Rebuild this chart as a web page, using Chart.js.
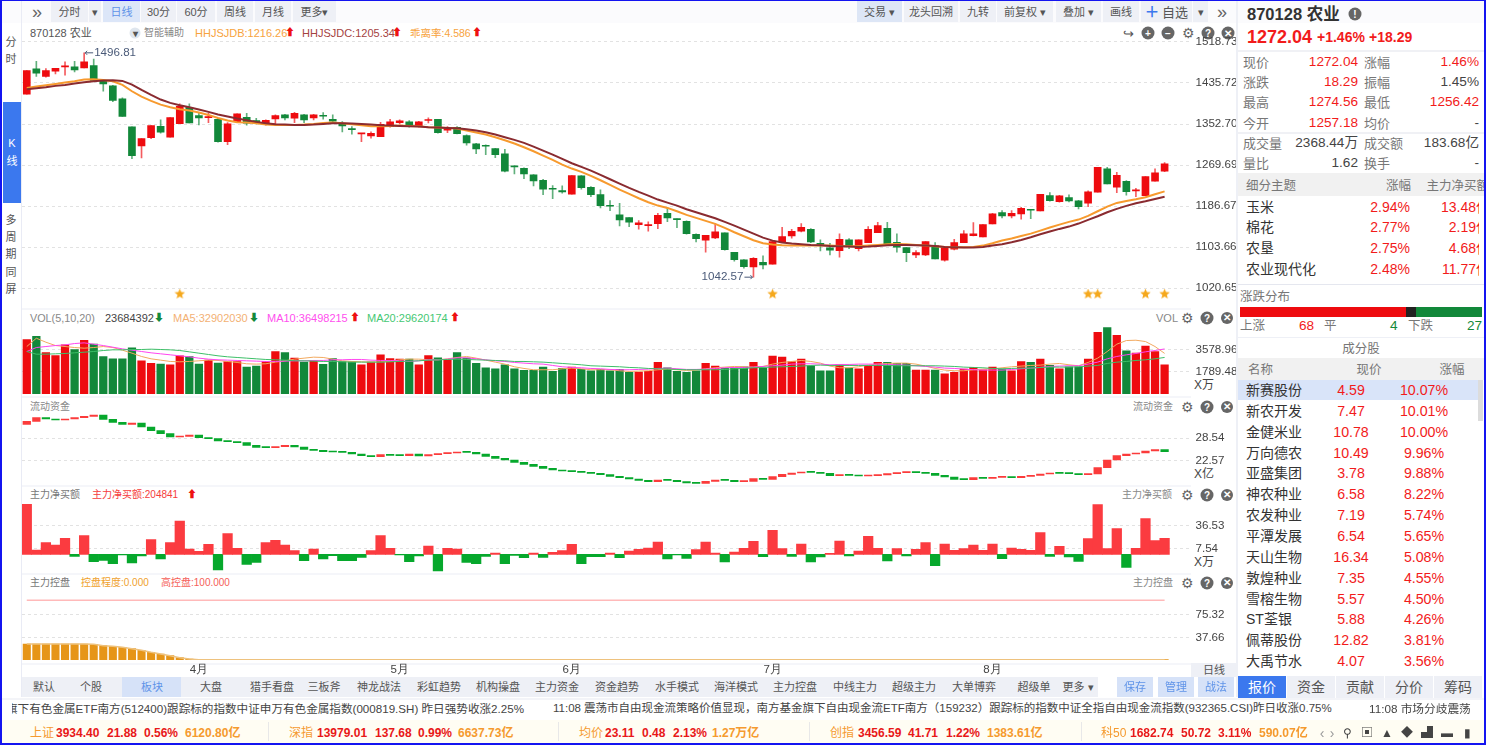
<!DOCTYPE html>
<html lang="zh"><head><meta charset="utf-8"><title>870128 农业</title>
<script src="https://cdn.jsdelivr.net/npm/chart.js@4"></script>
<style>
html,body{margin:0;padding:0;background:#fff;overflow:hidden}
body{width:1486px;height:745px;position:relative;font-family:"Liberation Sans","Noto Sans CJK SC",sans-serif;filter:blur(0.4px)}
canvas{position:absolute;display:block}
.t{position:absolute;white-space:pre;line-height:1;transform:translateY(-50%)}
.b{position:absolute}
</style></head><body>
<script>
// ---------- data ----------
const opens=[1413,1464.3,1448.8,1459.6,1468.3,1468.3,1466.3,1471,1440,1429.9,1403.5,1346.8,1308.4,1325.2,1348.2,1325.9,1353.6,1386.7,1369.8,1365.7,1362.4,1317.1,1357.6,1366.4,1359.7,1351.6,1363,1371.1,1364.4,1371.1,1365,1369.8,1362.4,1352.9,1342.8,1332.7,1328.6,1327.3,1347.5,1355.6,1356.9,1347.5,1359.7,1362.3,1340.1,1346.2,1329.3,1312.4,1309,1303,1292.2,1267.2,1263.1,1249.6,1238.8,1222,1217.9,1210.5,1247.6,1224.6,1209.8,1187.5,1168.6,1163.2,1149,1147,1151.1,1172,1160.5,1155.8,1129.5,1117.3,1122,1132.2,1093,1077.5,1063.3,1072.8,1068.7,1114.6,1126.1,1135.5,1139.6,1111.3,1101.8,1096.4,1118,1100.5,1112.6,1132.9,1141.6,1113.3,1102.5,1087.6,1087.6,1106.5,1076.8,1099.1,1112.6,1126.8,1124.1,1150.4,1173.4,1166.6,1170.7,1179.4,1176.7,1207.8,1195.6,1203.7,1197,1192.3,1214.5,1261.8,1224.7,1236.8,1217.2,1207.8,1236.8,1257.18];
const highs=[1460.9,1479.8,1465,1465.6,1478.5,1479.8,1496.81,1483.9,1442,1431.2,1405.6,1346.8,1323.2,1349.5,1361,1365.7,1393.4,1393.4,1374.5,1374.5,1364.4,1355.6,1373.1,1374.5,1364.4,1361,1371.1,1372.5,1376.5,1372.5,1372.5,1375.9,1371.1,1357.6,1347.5,1334,1336.7,1356.3,1362.4,1361,1359.7,1358.3,1365,1362.3,1347.5,1347.5,1330.6,1313.8,1310.4,1303.6,1301.6,1267.9,1263.8,1250.3,1240.8,1228,1227.4,1248.3,1248.3,1226,1219.3,1197.7,1192.2,1163.2,1157.2,1154.5,1172,1184.1,1160.5,1156.5,1130.2,1127.5,1151.8,1132.2,1093,1078.2,1082.2,1085.6,1116,1143.7,1139.6,1151.1,1140.9,1118,1111.3,1130.2,1120.7,1118,1145,1153.8,1153.8,1130.2,1102.5,1096.4,1114.6,1112.6,1104.5,1119.4,1136.9,1153.1,1149,1172,1177.4,1177.4,1184.2,1179.4,1210.5,1213.9,1208.5,1209.1,1198.3,1217.2,1265.2,1265.2,1255,1238.2,1222.6,1246.3,1261.8,1274.56];
const lows=[1413,1448.8,1447.4,1454.2,1451.5,1458.2,1466.3,1440.7,1419,1398.1,1367.8,1282.7,1284,1323.2,1334,1325.9,1353.6,1354.9,1350.9,1355.6,1315.8,1311,1357.6,1350.2,1352.9,1350.2,1352.9,1361,1355.6,1355.6,1361,1362.4,1354.2,1336.7,1332,1317.1,1323.9,1327.3,1346.2,1352.2,1346.2,1346.2,1354.9,1334,1335.3,1332.7,1309.7,1292.8,1290.8,1284.7,1255.7,1251.7,1242.2,1227.4,1209.8,1201.7,1212.5,1210.5,1220.6,1205.8,1182.8,1177.4,1146.4,1145,1139.6,1135.5,1141,1155.1,1143,1129.5,1113.9,1093,1120.7,1097,1074.8,1060.6,1042.57,1059.3,1068.7,1112.6,1121.4,1134.2,1112.6,1095.7,1087.6,1082.9,1100.5,1095.7,1112.6,1132.9,1107.9,1093,1074.1,1082.2,1086.3,1079.5,1074.8,1097.8,1112.6,1126.1,1124.1,1150.4,1162.6,1162.6,1159.9,1161.2,1176.7,1196.3,1194.3,1195,1180.8,1185.5,1214.5,1231.4,1213.9,1208.5,1205.8,1207.8,1236.8,1256.42];
const closes=[1460.9,1455.5,1460.9,1465.6,1469.7,1462.3,1478.5,1440.7,1433.9,1400.2,1367.8,1288.8,1323.2,1349.5,1336,1365.7,1388.7,1354.9,1365,1367.1,1317.1,1352.9,1373.1,1354.2,1354.2,1360.3,1369.8,1365,1374.5,1361,1371.1,1368.4,1358.3,1348.9,1341.4,1334,1334,1352.2,1356.9,1359,1348.2,1356.9,1361,1335.3,1344.1,1333.3,1314.4,1302.3,1307.7,1290.8,1257,1265.8,1251.7,1237.5,1220.6,1220.6,1215.2,1248.3,1224,1209.8,1187.5,1186.2,1158.5,1153.8,1152.4,1148.4,1168,1162.5,1159.2,1130.8,1120.7,1127.5,1134.2,1098.4,1078.2,1064,1080.9,1067.4,1114.6,1124.8,1135.5,1143.7,1113.9,1107.2,1097,1119.4,1105.9,1118,1139.6,1147,1109.9,1103.2,1092.4,1092.4,1114.6,1079.5,1104.5,1112.6,1130.2,1130.2,1149,1170.7,1166.6,1172,1182.1,1178.1,1210.5,1197.7,1207.1,1197,1185.5,1215.2,1265.2,1231.4,1249,1215.9,1218.6,1246.3,1253.7,1272.04];
const jdb=[1425.8,1428.5,1431.2,1433.9,1436.6,1439.3,1442.7,1443.4,1442,1439.3,1431.9,1419,1408.3,1399.5,1392,1386.7,1382.6,1379.9,1375.9,1371.1,1365,1359.7,1356.3,1355.6,1354.3,1351.6,1350.9,1350.9,1350.9,1351.6,1352.9,1354.9,1355.6,1354.3,1352.2,1350.2,1348.2,1348.2,1348.9,1349.5,1348.9,1348.2,1346.2,1345.5,1344.8,1343.5,1339.4,1335.4,1331.3,1325.9,1319.8,1313.1,1305.7,1297.5,1288.8,1280,1270.5,1262.5,1255.7,1247.6,1238.8,1229.4,1219.9,1211.2,1202.4,1194.3,1187.5,1182.8,1176,1168.6,1162.6,1156.5,1150.4,1142.3,1133.5,1125.4,1117.3,1111.3,1108.6,1107.2,1106.5,1106.5,1106.5,1106.5,1106.5,1105.9,1105.2,1105.2,1106.5,1107.9,1109.2,1109.9,1109.2,1107.9,1106.5,1105.2,1103.8,1103.2,1103.2,1103.8,1106.5,1111.3,1116.7,1120.7,1126.1,1130.8,1136.9,1143,1149,1154.5,1159.2,1166.6,1176,1185.5,1192.9,1197,1200.4,1204.4,1210.5,1216.26];
const jdc=[1423.1,1425.1,1427.2,1429.9,1431.9,1434.6,1437.3,1439.3,1440.7,1441.3,1440,1432.6,1421.8,1411.6,1402.2,1395.4,1390.7,1386.7,1381.9,1377.2,1371.8,1367.8,1363.7,1360.3,1357,1354.3,1352.2,1351.6,1350.9,1350.9,1351.6,1352.9,1354.3,1354.3,1353.6,1352.9,1351.6,1350.2,1349.5,1348.9,1348.2,1347.5,1346.2,1345.5,1344.8,1344.1,1342.1,1339.4,1336,1331.3,1325.9,1320.5,1314.4,1307,1298.9,1290.8,1282,1273.3,1265.8,1258.4,1249.6,1240.8,1232.1,1223.3,1215.2,1207.8,1199.7,1193.6,1187.5,1180.1,1174,1168,1161.9,1154.4,1147,1138.9,1130.8,1122.7,1116.6,1112.6,1110.6,1109.2,1107.9,1107.2,1105.9,1105.2,1104.5,1103.8,1104.5,1105.9,1107.2,1107.9,1107.9,1107.2,1106.5,1105.9,1103.8,1103.2,1102.5,1102.5,1103.8,1106.5,1109.2,1113.3,1118,1123.4,1129.5,1134.9,1140.3,1145,1151.1,1158.5,1165.9,1174,1180.8,1186.9,1192.3,1196.3,1201,1205.34];
const starIdx=[16,78,111,112,117,119];
const volumes=[4412,4681,3363,3120,3981,3605,4358,4035,3040,2851,2851,3739,2690,2475,2421,2367,3094,3040,2421,2744,2502,2636,2636,2179,2260,2636,3443,3363,2905,2582,2690,2394,2878,2636,2609,2367,2582,3174,2878,2825,2825,2367,3120,2932,2771,3363,2905,2475,2125,2044,2367,2044,1910,1910,2179,1829,2071,2179,1991,1883,1991,1883,1991,1749,1775,1829,2556,2125,1829,1749,1883,2475,2260,2071,2098,2206,2556,2098,3067,2986,2636,2825,2287,1883,1883,2367,2098,2044,2287,2556,2556,2475,2475,1937,1937,1937,1641,1749,2018,2152,1964,2179,2018,1883,2636,2556,2825,2313,2044,2206,2206,2825,5003,5380,4761,3497,3309,3874,3443,2368];
const ma5=[3847,4519,4196,3927,3847,3766,3712,3766,3847,3766,3551,3309,3040,2851,2744,2636,2609,2636,2690,2744,2717,2636,2556,2448,2421,2448,2582,2690,2825,2905,2986,2959,2825,2690,2636,2609,2582,2609,2636,2771,2825,2825,2771,2771,2851,2959,3040,2905,2744,2582,2421,2206,2071,1964,1964,1964,2044,2098,2044,1964,1964,1964,1883,1829,1856,1883,1964,2018,1964,1910,1937,2044,2125,2179,2233,2206,2179,2233,2421,2556,2636,2717,2636,2502,2260,2125,2125,2206,2340,2421,2475,2502,2502,2421,2260,2071,1937,1883,1883,1964,2018,2044,2125,2206,2260,2313,2340,2421,2475,2367,2287,2556,2905,3443,4035,4331,4358,4250,3847,3290];
const ma10=[3443,3766,3847,3927,3981,4089,4143,4035,3927,3793,3658,3551,3443,3336,3255,3174,3094,3013,2905,2825,2771,2744,2717,2690,2663,2636,2636,2663,2690,2690,2717,2717,2771,2771,2798,2798,2744,2717,2717,2690,2636,2690,2771,2771,2825,2932,2932,2851,2771,2690,2636,2556,2502,2448,2421,2313,2206,2152,2125,2071,2044,1991,1964,1964,1991,2018,2071,2098,2044,1991,1991,2018,2071,2125,2152,2152,2179,2233,2287,2340,2421,2448,2448,2421,2367,2394,2394,2421,2421,2421,2394,2367,2340,2287,2233,2179,2098,2071,2018,1964,1937,1937,1937,1991,2044,2098,2152,2233,2260,2287,2287,2421,2582,2851,3040,3174,3282,3416,3524,3650];
const ma20=[3443,3228,3228,3255,3282,3336,3389,3443,3524,3578,3578,3605,3605,3632,3605,3578,3524,3416,3309,3201,3094,3013,2959,2905,2851,2798,2771,2744,2690,2690,2663,2636,2636,2609,2582,2582,2582,2582,2609,2636,2663,2690,2744,2771,2798,2825,2798,2771,2744,2717,2690,2636,2636,2609,2582,2529,2475,2421,2367,2287,2260,2233,2206,2152,2125,2071,2044,2018,1991,1964,1964,1964,1964,1991,2044,2071,2125,2152,2179,2206,2233,2260,2313,2340,2313,2313,2313,2313,2313,2313,2313,2287,2287,2287,2287,2287,2260,2233,2179,2152,2125,2071,2044,2071,2098,2098,2152,2179,2179,2179,2206,2260,2313,2475,2582,2636,2717,2771,2851,2962];
const fundStart=32.25;
const fundClose=[33.05,34.04,33.68,33.41,33.68,34.04,34.40,34.76,33.59,32.78,32.25,32.61,31.53,30.54,29.74,28.84,29.02,29.38,28.66,28.39,27.77,27.59,27.32,26.60,26.06,25.98,26.24,26.60,26.15,25.53,25.26,24.90,24.81,24.72,24.27,23.82,23.56,24.09,23.91,23.82,24.27,23.73,24.09,24.36,24.54,24.81,24.72,24.27,23.65,23.11,22.66,22.03,21.49,20.96,20.42,19.97,19.70,19.52,19.34,19.08,18.72,18.27,17.91,17.55,17.19,16.84,17.28,17.19,16.84,16.48,16.39,16.93,17.28,17.19,16.84,16.93,17.64,17.46,18.18,18.81,19.17,19.43,19.34,19.08,18.45,18.72,18.54,18.36,18.45,18.63,18.99,19.25,19.52,19.25,19.08,18.54,18.09,17.46,17.37,17.91,17.73,18.00,18.18,17.91,18.27,18.54,18.90,19.17,19.08,18.99,18.72,18.90,20.60,22.66,23.82,24.27,24.54,25.08,25.44,24.90];
const netBuy=[63.95,5.54,14.92,11.94,20.46,-2.56,23.87,-9.38,-7.67,-11.94,-0.85,-11.08,-2.13,18.76,-5.97,14.92,42.63,6.82,3.84,12.79,-20.04,26.43,7.67,-12.79,-10.23,14.92,17.9,11.94,4.69,-8.1,6.82,-5.97,-1.71,-8.1,-8.1,-3.84,4.69,23.87,7.67,-0.85,-9.38,-2.13,10.66,-21.32,7.67,6.82,-10.23,-11.94,-2.56,1.71,-11.94,-1.28,-4.26,1.71,-3.84,2.56,4.69,12.79,-11.94,-2.98,-2.98,1.71,-4.26,4.26,6.39,8.1,15.77,-5.97,-0.85,-5.12,5.97,15.77,1.71,-9.8,2.98,7.67,16.63,-2.98,30.69,7.25,-2.56,13.22,-9.8,-3.41,1.28,17.05,-2.13,4.26,23.02,7.67,-8.53,7.25,-2.13,6.39,14.92,-14.49,13.22,5.12,7.25,11.94,5.12,13.22,-5.54,8.1,6.39,5.12,27.71,-2.56,10.23,-3.41,-8.95,20.04,63.52,7.25,32.83,-16.63,7.67,45.61,17.48,20.48];
const control=[26.41,26.41,26.41,26.41,26.41,26.41,26.41,25.85,23.6,22.48,20.8,18.55,15.74,12.36,9.55,6.74,3.37,1.12,0,0,0,0,0,0,0,0,0,0,0,0,0,0,0,0,0,0,0,0,0,0,0,0,0,0,0,0,0,0,0,0,0,0,0,0,0,0,0,0,0,0,0,0,0,0,0,0,0,0,0,0,0,0,0,0,0,0,0,0,0,0,0,0,0,0,0,0,0,0,0,0,0,0,0,0,0,0,0,0,0,0,0,0,0,0,0,0,0,0,0,0,0,0,0,0,0,0,0,0,0,0];
const highControl=100;
const monthNames=['4月','5月','6月','7月','8月'];
const monthIdx=[18,39,57,78,101];
const priceTicks=[1020.65,1103.66,1186.67,1269.69,1352.70,1435.72,1518.73];
const volTicks=[1789.48,3578.96];
const fundTicks=[22.57,28.54];
const netTicks=[7.54,36.53];
const ctrlTicks=[37.66,75.32];
const sectorNames=['玉米','棉花','农垦','农业现代化'],sectorPct=['2.94%','2.77%','2.75%','2.48%'],sectorFlow=['13.48亿','2.19亿','4.68亿','11.77亿'];
const stockNames=['新赛股份','新农开发','金健米业','万向德农','亚盛集团','神农种业','农发种业','平潭发展','天山生物','敦煌种业','雪榕生物','ST荃银','佩蒂股份','大禹节水'];
const stockPrice=['4.59','7.47','10.78','10.49','3.78','6.58','7.19','6.54','16.34','7.35','5.57','5.88','12.82','4.07'];
const stockPct=['10.07%','10.01%','10.00%','9.96%','9.88%','8.22%','5.74%','5.65%','5.08%','4.55%','4.50%','4.26%','3.81%','3.56%'];

// ---------- page helpers ----------
const RED='#f21b1b',GRN='#13893a',CANDLE_R='#ee0b0f',CANDLE_G='#12883a',GRAY='#777',DK='#444';
function t(x,y,s,o={}){const e=document.createElement('div');e.className='t';e.textContent=s;
 const st=e.style;st.top=y+'px';st.fontSize=(o.s||12)+'px';st.color=o.c||DK;if(o.b)st.fontWeight='bold';
 if(o.a==='r'){st.right=(1486-x)+'px'}else if(o.a==='c'){st.left=x+'px';st.transform='translate(-50%,-50%)'}else st.left=x+'px';
 if(o.ls)st.letterSpacing=o.ls+'px';
 document.body.appendChild(e);return e}
function box(x,y,w,h,bg,z){const e=document.createElement('div');e.className='b';e.style.cssText=`left:${x}px;top:${y}px;width:${w}px;height:${h}px;background:${bg}`;if(z)e.style.zIndex=z;document.body.appendChild(e);return e}
function circ(x,y,s,bg='#666',c='#fff',d=13){const e=t(x,y,s,{s:10,c,a:'c',b:1});e.style.cssText+=`;width:${d}px;height:${d}px;line-height:${d}px;border-radius:50%;background:${bg};text-align:center`;return e}
function btn(x0,x1,s,bg='#eef0f6',c='#555',fs=11){box(x0,1,x1-x0,21,bg);t((x0+x1)/2,12,s,{a:'c',c,s:fs})}
function panelIcons(y){t(1187,y,'⚙',{a:'c',s:14,c:'#666'});circ(1207,y,'?');circ(1227,y,'✕','#666','#fff',12)}
function clipped(x0,x1,y,right,s,o){const w=box(x0,y-9,x1-x0,18,'transparent');w.style.overflow='hidden';const e=t(0,9,s,o);e.style.left='auto';e.style.right=(x1-right)+'px';w.appendChild(e);return e}

// ---------- chrome ----------
box(0,0,1486,23,'#fbfbfd');
box(21,0,1,697,'#e9ebf5');box(1236,0,2,697,'#eef0f6');
t(37,12,'»',{a:'c',s:18,c:'#666'});
btn(51,88,'分时');btn(89,101,'▾');btn(103,140,'日线','#dce6f8','#5f93e8');btn(141,176,'30分');btn(177,215,'60分');btn(217,253,'周线');btn(255,291,'月线');btn(293,336,'更多▾');
btn(857,902,'交易 ▾','#dde6f6');btn(904,958,'龙头回溯');btn(960,996,'九转');btn(997,1053,'前复权 ▾');btn(1056,1101,'叠加 ▾');btn(1103,1139,'画线');btn(1141,1192,'');t(1152,11,'＋',{a:'c',s:15,c:'#3b78ee',b:1});t(1175,12,'自选',{a:'c',s:13,c:'#555'});btn(1193,1208,'▾');
t(1222,12,'»',{a:'c',s:18,c:'#666'});
t(11,42,'分',{a:'c',s:11,c:'#555'});t(11,59,'时',{a:'c',s:11,c:'#555'});
box(3,102,18,101,'#3b78ee');t(12,143,'K',{a:'c',s:11,c:'#fff'});t(12,161,'线',{a:'c',s:11,c:'#fff'});
['多','周','期','同','屏'].forEach((c,i)=>t(11,220+i*17.2,c,{a:'c',s:11,c:'#555'}));
[308,396,485,573,663].forEach(y=>box(22,y,1169,2,'#f5f6fa'));
box(1191,663,45,14,'#eef0f6');t(1214,670,'日线',{a:'c',s:11,c:'#555'});

// info rows
t(30,33,'870128 农业',{s:11,c:'#555'});circ(135,33,'▾','#dfe6ee','#555',11);t(144,33,'智能辅助',{s:10,c:'#888'});
t(195,33,'HHJSJDB:1216.26',{s:11,c:'#f7a33e'});t(285,33,'⬆',{s:10,c:'#ee1111'});
t(302,33,'HHJSJDC:1205.34',{s:11,c:'#a5423f'});t(392,33,'⬆',{s:10,c:'#ee1111'});
t(410,33,'乖离率:4.586',{s:10.5,c:'#f7a33e'});t(472,33,'⬆',{s:10,c:'#ee1111'});
t(1128,33,'↪',{a:'c',s:13,c:'#555'});circ(1148,33,'+');circ(1168,33,'−');t(1188,33,'⚙',{a:'c',s:14,c:'#666'});circ(1208,33,'?');circ(1228,33,'✕');
t(30,318,'VOL(5,10,20)',{s:10.8,c:'#888'});t(105,318,'23684392',{s:11,c:'#444'});t(154,318,'⬇',{s:10,c:GRN});
t(173,318,'MA5:32902030',{s:11,c:'#f3b174'});t(249,318,'⬇',{s:10,c:GRN});
t(267,318,'MA10:36498215',{s:11,c:'#ff4fee'});t(350,318,'⬆',{s:10,c:'#ee1111'});
t(367,318,'MA20:29620174',{s:11,c:'#46c873'});t(450,318,'⬆',{s:10,c:'#ee1111'});
t(1156,318,'VOL',{s:11,c:'#888'});panelIcons(318);
t(30,407,'流动资金',{s:10,c:'#888'});t(1133,407,'流动资金',{s:10,c:'#888'});panelIcons(407);
t(30,495,'主力净买额',{s:10,c:'#777'});t(92,495,'主力净买额:204841',{s:10,c:'#f53b3b'});t(187,495,'⬆',{s:10,c:'#ee1111'});t(1122,495,'主力净买额',{s:10,c:'#888'});panelIcons(495);
t(30,583,'主力控盘',{s:10,c:'#777'});t(81,583,'控盘程度:0.000',{s:10,c:'#efa12d'});t(161,583,'高控盘:100.000',{s:10,c:'#f5605a'});t(1133,583,'主力控盘',{s:10,c:'#888'});panelIcons(583);
t(1194,385,'X万',{s:12});t(1194,474,'X亿',{s:12});t(1194,562,'X万',{s:12});

// ---------- charts ----------
const N=122;const cats=Array.from({length:N},(_,i)=>{const k=monthIdx.indexOf(i);return k>=0?monthNames[k]:''});
function baseOpts(ticksArr,min,max,showX){
 return{responsive:false,animation:false,devicePixelRatio:1,layout:{padding:0,autoPadding:false},events:[],
  plugins:{legend:{display:false},tooltip:{enabled:false}},
  datasets:{bar:{grouped:false,borderWidth:0},line:{pointRadius:0,borderWidth:1,tension:0,spanGaps:false}},
  scales:{
   x:{type:'category',offset:true,display:!!showX,grid:{display:false,drawTicks:false},border:{display:false},
      ticks:{autoSkip:false,maxRotation:0,minRotation:0,padding:3,color:'#444',font:{size:11.5},callback(v,i){return cats[i]}},
      afterFit(s){if(showX){s.height=20;s.paddingLeft=0;s.paddingRight=0}}},
   y:{position:'right',min,max,border:{display:false,dash:[3,3]},
      grid:{color:'#e2e2e2',drawTicks:false,lineWidth:1},
      ticks:{padding:7,color:'#444',font:{size:11.6},callback:v=>Number(v).toFixed(2)},
      afterBuildTicks(s){s.ticks=ticksArr.map(v=>({value:v}))},
      afterFit(s){s.width=47.5;s.paddingTop=0;s.paddingBottom=0}}}}
}
function mk(top,bottom,cfg,extraH=0){const c=document.createElement('canvas');c.width=1214;c.height=bottom-top+extraH;c.style.cssText=`left:22px;top:${top}px;width:1214px;height:${bottom-top+extraH}px`;document.body.appendChild(c);return new Chart(c,cfg)}
const isUp=i=>closes[i]>=opens[i];
const candleCol=opens.map((_,i)=>isUp(i)?CANDLE_R:CANDLE_G);

// star marker as the point style
const star=document.createElement('canvas');star.width=star.height=11;
(()=>{const g=star.getContext('2d');g.fillStyle='#f5a81c';g.beginPath();for(let i=0;i<10;i++){const r=i%2?2.4:5.5,a=-Math.PI/2+i*Math.PI/5;g[i?'lineTo':'moveTo'](5.5+r*Math.cos(a),5.5+r*Math.sin(a))}g.closePath();g.fill()})();

const labelPlugin={id:'hl',afterDatasetsDraw(ch){const g=ch.ctx,x=ch.scales.x,y=ch.scales.y;g.save();g.font='11.6px "Liberation Sans"';g.fillStyle='#4a5a78';g.strokeStyle='#4a5a78';g.lineWidth=1;g.textBaseline='middle';
 const hi=highs.indexOf(Math.max(...highs)),lo=lows.indexOf(Math.min(...lows));
 const hx=x.getPixelForValue(hi),hy=y.getPixelForValue(highs[hi]);
 g.beginPath();g.moveTo(hx+1,hy);g.lineTo(hx+9,hy);g.moveTo(hx+3,hy-2);g.lineTo(hx+1,hy);g.lineTo(hx+3,hy+2);g.stroke();g.fillText(highs[hi].toFixed(2),hx+10,hy);
 const lx=x.getPixelForValue(lo),ly=y.getPixelForValue(lows[lo]);
 const s=lows[lo].toFixed(2);g.beginPath();g.moveTo(lx-9,ly);g.lineTo(lx-1,ly);g.moveTo(lx-3,ly-2);g.lineTo(lx-1,ly);g.lineTo(lx-3,ly+2);g.stroke();g.textAlign='right';g.fillText(s,lx-10,ly);
 g.restore()}};
const candleDs=[
 {type:'line',data:jdc,borderColor:'#8a2b30',borderWidth:2},
 {type:'line',data:jdb,borderColor:'#f79a2e',borderWidth:2},
 {type:'line',data:opens.map((_,i)=>starIdx.includes(i)?1008.5:null),showLine:false,pointStyle:star,pointRadius:6},
 {type:'bar',data:opens.map((o,i)=>[o,closes[i]]),backgroundColor:candleCol,barThickness:7,minBarLength:1},
 {type:'bar',data:opens.map((o,i)=>[lows[i],highs[i]]),backgroundColor:candleCol.map(c=>c+'aa'),barThickness:1}];
mk(24,308,{type:'bar',data:{labels:cats,datasets:candleDs},options:baseOpts(priceTicks,1020.65-20*2.0247,1518.73+18*2.0247),plugins:[labelPlugin]});
mk(310,394.3,{type:'bar',data:{labels:cats,datasets:[
 {type:'line',data:ma20,borderColor:'#3dbf68'},{type:'line',data:ma10,borderColor:'#ff45f0'},{type:'line',data:ma5,borderColor:'#f2a95f'},
 {type:'bar',data:volumes,backgroundColor:candleCol,barThickness:7.6}]},options:baseOpts(volTicks,0,6806)});
const fundBars=fundClose.map((c,i)=>[i?fundClose[i-1]:fundStart,c]);
mk(398,484,{type:'bar',data:{labels:cats,datasets:[{type:'bar',data:fundBars,backgroundColor:fundBars.map(b=>b[1]>=b[0]?'#fb3b3b':'#06a82c'),barThickness:7.6,minBarLength:1}]},options:baseOpts(fundTicks,16.21,39.33)});
mk(488,572,{type:'bar',data:{labels:cats,datasets:[{type:'bar',data:netBuy,backgroundColor:netBuy.map(v=>v>=0?'#fb3b40':'#06a82c'),barThickness:9.6}]},options:baseOpts(netTicks,-22.6,84.8)});
mk(576,660,{type:'bar',data:{labels:cats,datasets:[
 {type:'line',data:control.map(()=>highControl),borderColor:'#ffb9b9',borderWidth:1.5},
 {type:'line',data:control,borderColor:'#eec27e',borderWidth:1.5},
 {type:'bar',data:control,backgroundColor:'#e69518',barThickness:7.4}]},options:baseOpts(ctrlTicks,-0.56,141,true)},20);

// ---------- right quote panel ----------
t(1247,14,'870128 农业',{s:16.5,b:1,c:'#333'});circ(1355,14,'!','#666','#fff',13);
t(1247,37,'1272.04',{s:18,b:1,c:RED});t(1317,37,'+1.46%',{s:14,b:1,c:RED});t(1369,37,'+18.29',{s:14,b:1,c:RED});
box(1238,50,246,2,'#f0f1f5');box(1238,132,246,2,'#f0f1f5');
[['现价','1272.04','涨幅','1.46%',RED,RED],['涨跌','18.29','振幅','1.45%',RED,DK],['最高','1274.56','最低','1256.42',RED,RED],['今开','1257.18','均价','-',RED,DK],['成交量','2368.44万','成交额','183.68亿',DK,DK],['量比','1.62','换手','-',DK,DK]].forEach((r,i)=>{const y=[62,82,102,123,143,163][i];
 t(1243,y,r[0],{s:13,c:'#777'});t(1358,y,r[1],{a:'r',s:13.6,c:r[4]});t(1364,y,r[2],{s:13,c:'#777'});t(1479,y,r[3],{a:'r',s:13.6,c:r[5]})});
box(1238,173,246,23,'#f1f1f1');t(1246,186,'细分主题',{s:12.5,c:'#777'});t(1411,186,'涨幅',{a:'r',s:12.5,c:'#777'});
clipped(1420,1484,186,1489,'主力净买额',{s:12.5,c:'#777'});
sectorNames.forEach((n,i)=>{const y=[207,227,248,269][i];t(1246,y,n,{s:14,c:'#333'});t(1410,y,sectorPct[i],{a:'r',s:14,c:RED});
 clipped(1420,1479,y,1490,sectorFlow[i],{s:14,c:RED})});
box(1238,284,246,1,'#e5e7ef');t(1240,297,'涨跌分布',{s:12.5,c:'#777'});
box(1240,307,166,10,'#ee0b0f');box(1406,307,10,10,'#222');box(1416,307,66,10,'#12883a');
t(1240,326,'上涨',{s:12.5,c:'#777'});t(1299,326,'68',{s:13.6,c:RED});t(1324,326,'平',{s:12.5,c:'#777'});t(1390,326,'4',{s:13.6,c:GRN});t(1408,326,'下跌',{s:12.5,c:'#777'});t(1467,326,'27',{s:13.6,c:GRN});
box(1238,337,246,1,'#eef0f6');t(1361,349,'成分股',{a:'c',s:12.5,c:'#777'});
box(1238,358,246,22,'#f1f1f1');t(1248,370,'名称',{s:12.5,c:'#777'});t(1369,370,'现价',{a:'c',s:12.5,c:'#777'});t(1452,370,'涨幅',{a:'c',s:12.5,c:'#777'});
box(1238,380,240,20,'#d9e4f9');box(1478,380,5,41,'#dcdcdc');
stockNames.forEach((n,i)=>{const y=390+i*20.85;t(1246,y,n,{s:14,c:'#333'});t(1351,y,stockPrice[i],{a:'c',s:14.2,c:RED});t(1424,y,stockPct[i],{a:'c',s:14.2,c:RED})});
['报价','资金','贡献','分价','筹码'].forEach((n,i)=>{const x=1238+i*49;box(x,676,48,22,i?'#eef0f6':'#3b78ee');t(x+24,687,n,{a:'c',s:14,c:i?'#555':'#fff'})});

// ---------- bottom strategy tabs ----------
box(22,677,1076,20,'#eef0f6');box(122,677,59,20,'#d6e2f8');
[['默认',44],['个股',91],['板块',152],['大盘',211],['猎手看盘',272],['三板斧',324],['神龙战法',379],['彩虹趋势',439],['机构操盘',498],['主力资金',557],['资金趋势',617],['水手模式',677],['海洋模式',736],['主力控盘',795],['中线主力',855],['超级主力',914],['大单博弈',974],['超级单',1034],['更多 ▾',1078]].forEach(([n,x])=>t(x,687,n,{a:'c',s:11,c:n==='板块'?'#5f93e8':'#555'}));
[['保存',1135],['管理',1176],['战法',1216]].forEach(([n,x])=>{box(x-18,677,36,20,'#d6e2f8');t(x,687,n,{a:'c',s:11,c:'#5f93e8'})});

// ---------- ticker ----------
box(0,698,1486,2,'#f3f4f8');
{const w=box(12,700,520,18,'transparent');w.style.overflow='hidden';const e=t(-6,9,'旗下有色金属ETF南方(512400)跟踪标的指数中证申万有色金属指数(000819.SH) 昨日强势收涨2.25%',{s:11.6,c:'#444'});w.appendChild(e)}
t(553,709,'11:08 震荡市自由现金流策略价值显现，南方基金旗下自由现金流ETF南方（159232）跟踪标的指数中证全指自由现金流指数(932365.CSI)昨日收涨0.75%',{s:11.5,c:'#444'});
t(1369,709,'11:08 市场分歧震荡',{s:11.7,c:'#444'});

// ---------- index row ----------
box(0,720,1486,23,'#fffdf3');
[[30,'上证',56,'3934.40',107,'21.88',144,'0.56%',185,'6120.80亿'],[289,'深指',317,'13979.01',375,'137.68',418,'0.99%',458,'6637.73亿'],[579,'均价',605,'23.11',642,'0.48',673,'2.13%',712,'1.27万亿'],[830,'创指',858,'3456.59',908,'41.71',946,'1.22%',987,'1383.61亿'],[1101,'科50',1130,'1682.74',1181,'50.72',1218,'3.11%',1259,'590.07亿']].forEach(r=>{
 t(r[0],733,r[1],{s:12,c:'#f59a2e'});t(r[2],733,r[3],{s:12,b:1,c:'#e81818'});t(r[4],733,r[5],{s:12,b:1,c:'#e81818'});t(r[6],733,r[7],{s:12,b:1,c:'#e81818'});t(r[8],733,r[9],{s:12,b:1,c:'#f59a2e'})});
[268,558,809,1081].forEach(x=>box(x,722,1,19,'#e8e8e8'));
t(1322,733,'‹',{a:'c',s:14,c:'#999'});t(1332,733,'›',{a:'c',s:14,c:'#999'});
['⚲','▣','▲','◆','▟','▬','▮'].forEach((g,i)=>t(1347+i*20,733,g,{a:'c',s:12,c:'#444'}));
// window border
const bd=document.createElement('div');bd.style.cssText='position:absolute;left:0;top:0;width:1486px;height:745px;box-sizing:border-box;border:solid #1414f0;border-width:1px 2px 2px 2px;z-index:9;pointer-events:none';document.body.appendChild(bd);
</script>
</body></html>
